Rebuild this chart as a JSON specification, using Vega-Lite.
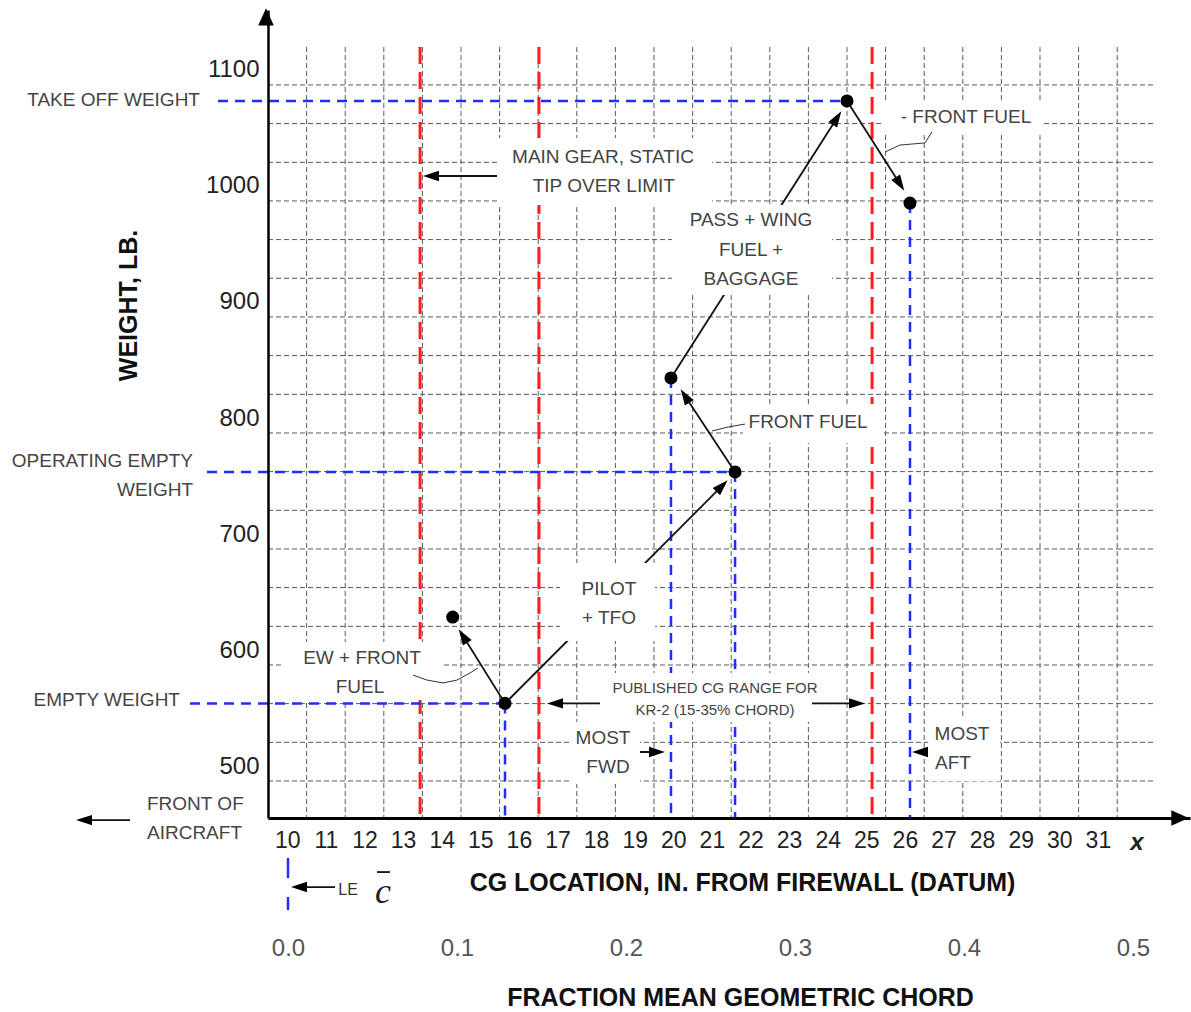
{
  "$schema": "https://vega.github.io/schema/vega-lite/v6.json",
  "width": 922,
  "height": 808,
  "autosize": {"type": "none"},
  "padding": {"left": 268, "top": 10, "right": 1, "bottom": 194},
  "background": "white",
  "config": {"view": {"stroke": null}, "font": "Liberation Sans"},
  "datasets": {
    "gridv": [{"x":10.5},{"x":11.5},{"x":12.5},{"x":13.5},{"x":14.5},{"x":15.5},{"x":16.5},{"x":17.5},{"x":18.5},{"x":19.5},{"x":20.5},{"x":21.5},{"x":22.5},{"x":23.5},{"x":24.5},{"x":25.5},{"x":26.5},{"x":27.5},{"x":28.5},{"x":29.5},{"x":30.5},{"x":31.5}],
    "gridh": [{"w":1087.1},{"w":1053.8},{"w":1020.4},{"w":987.1},{"w":953.8},{"w":920.4},{"w":887.1},{"w":853.8},{"w":820.4},{"w":787.1},{"w":753.8},{"w":720.4},{"w":687.1},{"w":653.8},{"w":620.4},{"w":587.1},{"w":553.8},{"w":520.4},{"w":487.1}],
    "limits": [
      {"x": 13.44, "limit": "Main gear static tip over limit"},
      {"x": 16.52, "limit": "15% chord"},
      {"x": 25.15, "limit": "35% chord"}
    ],
    "refs": [
      {"ref": "Take off weight", "x": 8.205, "x2": 24.5, "w": 1073.3, "w2": 1073.3},
      {"ref": "Operating empty weight", "x": 7.92, "x2": 21.6, "w": 753.5, "w2": 753.5},
      {"ref": "Empty weight", "x": 7.479, "x2": 15.64, "w": 554, "w2": 554},
      {"ref": "EW cg", "x": 15.64, "x2": 15.64, "w": 554, "w2": 455.2},
      {"ref": "Most fwd", "x": 19.94, "x2": 19.94, "w": 834.5, "w2": 455.2},
      {"ref": "OEW cg", "x": 21.6, "x2": 21.6, "w": 753.5, "w2": 455.2},
      {"ref": "Most aft", "x": 26.132, "x2": 26.132, "w": 985.3, "w2": 455.2}
    ],
    "points": [
      {"step": "Empty weight", "cg": 15.64, "weight": 554},
      {"step": "EW + front fuel", "cg": 14.285, "weight": 628.4},
      {"step": "Operating empty weight", "cg": 21.6, "weight": 753.5},
      {"step": "+ Front fuel", "cg": 19.94, "weight": 834.5},
      {"step": "Take off weight", "cg": 24.5, "weight": 1073.3},
      {"step": "- Front fuel", "cg": 26.132, "weight": 985.3}
    ],
    "arrows": [
      {"id": "tip over", "x": 15.433, "w": 1008.6, "x2": 13.723, "w2": 1008.6},
      {"id": "pass wing fuel baggage", "x": 19.94, "w": 834.5, "x2": 24.241, "w2": 1058.6},
      {"id": "minus front fuel", "x": 24.5, "w": 1073.3, "x2": 25.873, "w2": 1001.7},
      {"id": "front fuel", "x": 21.6, "w": 753.5, "x2": 20.303, "w2": 819.0},
      {"id": "pilot tfo", "x": 15.64, "w": 554, "x2": 21.262, "w2": 741.4},
      {"id": "ew front fuel", "x": 15.64, "w": 554, "x2": 14.552, "w2": 612.1},
      {"id": "range left", "x": 18.101, "w": 554, "x2": 16.935, "w2": 554},
      {"id": "range right", "x": 23.593, "w": 554, "x2": 24.759, "w2": 554},
      {"id": "most fwd", "x": 18.36, "w": 512.1, "x2": 19.578, "w2": 512.1},
      {"id": "most aft", "x": 27.557, "w": 512.1, "x2": 26.391, "w2": 512.1},
      {"id": "front of aircraft", "x": 5.925, "w": 453.4, "x2": 4.733, "w2": 453.4},
      {"id": "le", "x": 11.236, "w": 395.7, "x2": 10.303, "w2": 395.7},
      {"id": "c bar", "x": 12.324, "w": 408.6, "x2": 12.66, "w2": 408.6}
    ],
    "heads": [
      {"id": "tip over", "dir": "left", "x": 13.723, "w": 1008.6},
      {"id": "range left", "dir": "left", "x": 16.935, "w": 554},
      {"id": "most aft", "dir": "left", "x": 26.391, "w": 512.1},
      {"id": "front of aircraft", "dir": "left", "x": 4.733, "w": 453.4},
      {"id": "le", "dir": "left", "x": 10.303, "w": 395.7},
      {"id": "range right", "dir": "right", "x": 24.759, "w": 554},
      {"id": "most fwd", "dir": "right", "x": 19.578, "w": 512.1},
      {"id": "pass wing fuel baggage", "dir": "upright", "x": 24.241, "w": 1058.6},
      {"id": "minus front fuel", "dir": "downright", "x": 25.873, "w": 1001.7},
      {"id": "front fuel", "dir": "upleft", "x": 20.303, "w": 819.0},
      {"id": "ew front fuel", "dir": "upleft", "x": 14.552, "w": 612.1},
      {"id": "pilot tfo", "dir": "diag", "x": 21.262, "w": 741.4},
      {"id": "y axis", "dir": "axisup", "x": 9.448, "w": 1145.7},
      {"id": "x axis", "dir": "axisright", "x": 33.127, "w": 455.2}
    ],
    "boxes": [
      {"id": "main gear", "x": 15.459, "x2": 21.002, "w": 1041.4, "w2": 983.6},
      {"id": "pass", "x": 19.966, "x2": 24.111, "w": 983.6, "w2": 906.0},
      {"id": "minus front fuel", "x": 25.407, "x2": 29.552, "w": 1074.1, "w2": 1044.0},
      {"id": "front fuel", "x": 21.806, "x2": 25.407, "w": 812.1, "w2": 778.4},
      {"id": "pilot", "x": 17.065, "x2": 19.526, "w": 675.0, "w2": 607.8},
      {"id": "ew front fuel", "x": 9.889, "x2": 14.034, "w": 606.9, "w2": 556.9},
      {"id": "published", "x": 18.101, "x2": 23.593, "w": 580.2, "w2": 537.9},
      {"id": "most fwd", "x": 17.324, "x2": 19.137, "w": 537.9, "w2": 484.5},
      {"id": "most aft", "x": 26.598, "x2": 28.464, "w": 541.4, "w2": 487.1}
    ],
    "leaders": [
      {"id": "minus front fuel", "seq": 1, "x": 26.70, "w": 1046.6},
      {"id": "minus front fuel", "seq": 2, "x": 26.52, "w": 1037.1},
      {"id": "minus front fuel", "seq": 3, "x": 25.873, "w": 1035.3},
      {"id": "minus front fuel", "seq": 4, "x": 25.484, "w": 1029.3},
      {"id": "front fuel", "seq": 1, "x": 21.857, "w": 794.8},
      {"id": "front fuel", "seq": 2, "x": 21.417, "w": 792.2},
      {"id": "front fuel", "seq": 3, "x": 21.002, "w": 788.8},
      {"id": "ew front fuel", "seq": 1, "x": 13.256, "w": 578.4},
      {"id": "ew front fuel", "seq": 2, "x": 13.619, "w": 574.1},
      {"id": "ew front fuel", "seq": 3, "x": 14.034, "w": 571.6},
      {"id": "ew front fuel", "seq": 4, "x": 14.396, "w": 574.1},
      {"id": "ew front fuel", "seq": 5, "x": 14.733, "w": 580.2},
      {"id": "ew front fuel", "seq": 6, "x": 14.94, "w": 584.5}
    ],
    "notes": [
      {"role": "side", "text": "TAKE OFF WEIGHT", "x": 7.738, "w": 1074.1},
      {"role": "side", "text": "OPERATING EMPTY", "x": 7.557, "w": 762.9},
      {"role": "side", "text": "WEIGHT", "x": 7.557, "w": 737.9},
      {"role": "side", "text": "EMPTY WEIGHT", "x": 7.22, "w": 556.9},
      {"role": "front", "text": "FRONT OF", "x": 6.365, "w": 467.2},
      {"role": "front", "text": "AIRCRAFT", "x": 6.365, "w": 442.2},
      {"role": "callout", "text": "MAIN GEAR, STATIC", "x": 18.179, "w": 1025},
      {"role": "callout", "text": "TIP OVER LIMIT", "x": 18.2, "w": 1000},
      {"role": "callout", "text": "PASS + WING", "x": 22.013, "w": 970.7},
      {"role": "callout", "text": "FUEL +", "x": 22.013, "w": 944.8},
      {"role": "callout", "text": "BAGGAGE", "x": 22.013, "w": 919.8},
      {"role": "callout", "text": "- FRONT FUEL", "x": 27.583, "w": 1059.5},
      {"role": "callout", "text": "FRONT FUEL", "x": 23.49, "w": 796.6},
      {"role": "callout", "text": "PILOT", "x": 18.334, "w": 652.6},
      {"role": "callout", "text": "+ TFO", "x": 18.334, "w": 627.6},
      {"role": "callout", "text": "EW + FRONT", "x": 11.935, "w": 593.1},
      {"role": "callout", "text": "FUEL", "x": 11.883, "w": 568.1},
      {"role": "callout", "text": "MOST", "x": 18.179, "w": 524.1},
      {"role": "callout", "text": "FWD", "x": 18.308, "w": 499.1},
      {"role": "callout", "text": "MOST", "x": 27.479, "w": 527.6},
      {"role": "callout", "text": "AFT", "x": 27.246, "w": 502.6},
      {"role": "range", "text": "PUBLISHED CG RANGE FOR", "x": 21.08, "w": 567.2},
      {"role": "range", "text": "KR-2 (15-35% CHORD)", "x": 21.08, "w": 548.3},
      {"role": "le", "text": "LE", "x": 11.573, "w": 393.1},
      {"role": "chord", "text": "c", "x": 12.479, "w": 391.4},
      {"role": "xsym", "text": "x", "x": 32.013, "w": 433.6}
    ],
    "le_mark": [
      {"frac": 0, "w": 420.7, "w2": 403.4},
      {"frac": 0, "w": 387.1, "w2": 375.9}
    ]
  },
  "layer": [
    {
      "layer": [
        {
          "data": {"name": "gridv"},
          "mark": {"type": "rule", "color": "#5a5a5a", "strokeWidth": 1, "strokeDash": [5, 3], "clip": false},
          "encoding": {
            "x": {
              "field": "x", "type": "quantitative",
              "scale": {"domain": [9.5, 33.386], "nice": false, "zero": false},
              "axis": {
                "values": [10,11,12,13,14,15,16,17,18,19,20,21,22,23,24,25,26,27,28,29,30,31],
                "format": "d", "labelFontSize": 23, "labelColor": "#222", "labelPadding": 11,
                "ticks": false, "grid": false, "domainColor": "#000", "domainWidth": 3,
                "labelFlush": false, "labelOverlap": false,
                "title": "CG LOCATION, IN. FROM FIREWALL (DATUM)", "titleFontSize": 25, "titleFontWeight": "bold",
                "titleColor": "#111", "titleX": 474, "titleY": 64, "titleAlign": "center", "titleBaseline": "middle",
                "zindex": 1
              }
            },
            "y": {"datum": 1119.8, "type": "quantitative"},
            "y2": {"datum": 455.2}
          }
        },
        {
          "data": {"name": "gridh"},
          "mark": {"type": "rule", "color": "#5a5a5a", "strokeWidth": 1, "strokeDash": [5, 3], "clip": false},
          "encoding": {
            "y": {
              "field": "w", "type": "quantitative",
              "scale": {"domain": [455.2, 1151.7], "nice": false, "zero": false},
              "axis": {
                "values": [500, 600, 700, 800, 900, 1000, 1100], "format": "d",
                "labelFontSize": 24, "labelColor": "#222", "labelPadding": 9,
                "ticks": false, "grid": false, "domainColor": "#000", "domainWidth": 2.5,
                "title": "WEIGHT, LB.", "titleFontSize": 25, "titleFontWeight": "bold", "titleColor": "#111",
                "titleX": -140, "titleY": 295, "titleAngle": 270, "titleAlign": "center", "titleBaseline": "middle",
                "zindex": 1
              }
            },
            "x": {"datum": 9.5, "type": "quantitative"},
            "x2": {"datum": 32.48}
          }
        },
        {
          "data": {"name": "limits"},
          "mark": {"type": "rule", "color": "#ff1e1e", "strokeWidth": 3, "strokeDash": [17, 8], "clip": false},
          "encoding": {
            "x": {"field": "x", "type": "quantitative"},
            "y": {"datum": 1119.8, "type": "quantitative"},
            "y2": {"datum": 455.2}
          }
        },
        {
          "data": {"name": "refs"},
          "mark": {"type": "rule", "color": "#1f2eff", "strokeWidth": 2.5, "strokeDash": [10, 7], "clip": false},
          "encoding": {
            "x": {"field": "x", "type": "quantitative"},
            "x2": {"field": "x2"},
            "y": {"field": "w", "type": "quantitative"},
            "y2": {"field": "w2"}
          }
        },
        {
          "data": {"name": "arrows"},
          "mark": {"type": "rule", "color": "#111", "strokeWidth": 1.8, "clip": false},
          "encoding": {
            "x": {"field": "x", "type": "quantitative"},
            "x2": {"field": "x2"},
            "y": {"field": "w", "type": "quantitative"},
            "y2": {"field": "w2"}
          }
        },
        {
          "data": {"name": "boxes"},
          "mark": {"type": "rect", "fill": "white", "clip": false},
          "encoding": {
            "x": {"field": "x", "type": "quantitative"},
            "x2": {"field": "x2"},
            "y": {"field": "w", "type": "quantitative"},
            "y2": {"field": "w2"}
          }
        },
        {
          "data": {"name": "leaders"},
          "mark": {"type": "line", "color": "#333", "strokeWidth": 1, "clip": false},
          "encoding": {
            "x": {"field": "x", "type": "quantitative"},
            "y": {"field": "w", "type": "quantitative"},
            "detail": {"field": "id"},
            "order": {"field": "seq"}
          }
        },
        {
          "data": {"name": "points"},
          "mark": {"type": "point", "filled": true, "shape": "circle", "color": "#000", "size": 170, "opacity": 1, "clip": false},
          "encoding": {
            "x": {"field": "cg", "type": "quantitative"},
            "y": {"field": "weight", "type": "quantitative"}
          }
        },
        {
          "data": {"name": "heads"},
          "transform": [{"filter": "datum.dir == 'left'"}],
          "mark": {"type": "point", "filled": true, "shape": "M0,-1L0.65,1L-0.65,1Z", "angle": 270, "size": 256, "color": "#000", "opacity": 1, "clip": false},
          "encoding": {"x": {"field": "x", "type": "quantitative"}, "y": {"field": "w", "type": "quantitative"}}
        },
        {
          "data": {"name": "heads"},
          "transform": [{"filter": "datum.dir == 'right'"}],
          "mark": {"type": "point", "filled": true, "shape": "M0,-1L0.65,1L-0.65,1Z", "angle": 90, "size": 256, "color": "#000", "opacity": 1, "clip": false},
          "encoding": {"x": {"field": "x", "type": "quantitative"}, "y": {"field": "w", "type": "quantitative"}}
        },
        {
          "data": {"name": "heads"},
          "transform": [{"filter": "datum.dir == 'upright'"}],
          "mark": {"type": "point", "filled": true, "shape": "M0,-1L0.65,1L-0.65,1Z", "angle": 32.5, "size": 256, "color": "#000", "opacity": 1, "clip": false},
          "encoding": {"x": {"field": "x", "type": "quantitative"}, "y": {"field": "w", "type": "quantitative"}}
        },
        {
          "data": {"name": "heads"},
          "transform": [{"filter": "datum.dir == 'downright'"}],
          "mark": {"type": "point", "filled": true, "shape": "M0,-1L0.65,1L-0.65,1Z", "angle": 147.5, "size": 256, "color": "#000", "opacity": 1, "clip": false},
          "encoding": {"x": {"field": "x", "type": "quantitative"}, "y": {"field": "w", "type": "quantitative"}}
        },
        {
          "data": {"name": "heads"},
          "transform": [{"filter": "datum.dir == 'upleft'"}],
          "mark": {"type": "point", "filled": true, "shape": "M0,-1L0.65,1L-0.65,1Z", "angle": 327.5, "size": 256, "color": "#000", "opacity": 1, "clip": false},
          "encoding": {"x": {"field": "x", "type": "quantitative"}, "y": {"field": "w", "type": "quantitative"}}
        },
        {
          "data": {"name": "heads"},
          "transform": [{"filter": "datum.dir == 'diag'"}],
          "mark": {"type": "point", "filled": true, "shape": "M0,-1L0.65,1L-0.65,1Z", "angle": 44.8, "size": 256, "color": "#000", "opacity": 1, "clip": false},
          "encoding": {"x": {"field": "x", "type": "quantitative"}, "y": {"field": "w", "type": "quantitative"}}
        },
        {
          "data": {"name": "heads"},
          "transform": [{"filter": "datum.dir == 'axisup'"}],
          "mark": {"type": "point", "filled": true, "shape": "M0,-1L0.9,1L-0.9,1Z", "angle": 0, "size": 300, "color": "#000", "opacity": 1, "clip": false},
          "encoding": {"x": {"field": "x", "type": "quantitative"}, "y": {"field": "w", "type": "quantitative"}}
        },
        {
          "data": {"name": "heads"},
          "transform": [{"filter": "datum.dir == 'axisright'"}],
          "mark": {"type": "point", "filled": true, "shape": "M0,-1L0.9,1L-0.9,1Z", "angle": 90, "size": 300, "color": "#000", "opacity": 1, "clip": false},
          "encoding": {"x": {"field": "x", "type": "quantitative"}, "y": {"field": "w", "type": "quantitative"}}
        },
        {
          "data": {"name": "notes"},
          "transform": [{"filter": "datum.role == 'callout'"}],
          "mark": {"type": "text", "fontSize": 19, "color": "#444", "align": "center", "baseline": "middle", "clip": false},
          "encoding": {"x": {"field": "x", "type": "quantitative"}, "y": {"field": "w", "type": "quantitative"}, "text": {"field": "text"}}
        },
        {
          "data": {"name": "notes"},
          "transform": [{"filter": "datum.role == 'side'"}],
          "mark": {"type": "text", "fontSize": 19, "color": "#444", "align": "right", "baseline": "middle", "clip": false},
          "encoding": {"x": {"field": "x", "type": "quantitative"}, "y": {"field": "w", "type": "quantitative"}, "text": {"field": "text"}}
        },
        {
          "data": {"name": "notes"},
          "transform": [{"filter": "datum.role == 'front'"}],
          "mark": {"type": "text", "fontSize": 19, "color": "#444", "align": "left", "baseline": "middle", "clip": false},
          "encoding": {"x": {"field": "x", "type": "quantitative"}, "y": {"field": "w", "type": "quantitative"}, "text": {"field": "text"}}
        },
        {
          "data": {"name": "notes"},
          "transform": [{"filter": "datum.role == 'range'"}],
          "mark": {"type": "text", "fontSize": 15, "color": "#444", "align": "center", "baseline": "middle", "clip": false},
          "encoding": {"x": {"field": "x", "type": "quantitative"}, "y": {"field": "w", "type": "quantitative"}, "text": {"field": "text"}}
        },
        {
          "data": {"name": "notes"},
          "transform": [{"filter": "datum.role == 'le'"}],
          "mark": {"type": "text", "fontSize": 16, "color": "#333", "align": "center", "baseline": "middle", "clip": false},
          "encoding": {"x": {"field": "x", "type": "quantitative"}, "y": {"field": "w", "type": "quantitative"}, "text": {"field": "text"}}
        },
        {
          "data": {"name": "notes"},
          "transform": [{"filter": "datum.role == 'chord'"}],
          "mark": {"type": "text", "font": "Liberation Serif", "fontStyle": "italic", "fontSize": 36, "color": "#222", "align": "center", "baseline": "middle", "clip": false},
          "encoding": {"x": {"field": "x", "type": "quantitative"}, "y": {"field": "w", "type": "quantitative"}, "text": {"field": "text"}}
        },
        {
          "data": {"name": "notes"},
          "transform": [{"filter": "datum.role == 'xsym'"}],
          "mark": {"type": "text", "fontStyle": "italic", "fontWeight": "bold", "fontSize": 24, "color": "#222", "align": "center", "baseline": "middle", "clip": false},
          "encoding": {"x": {"field": "x", "type": "quantitative"}, "y": {"field": "w", "type": "quantitative"}, "text": {"field": "text"}}
        }
      ]
    },
    {
      "data": {"name": "le_mark"},
      "mark": {"type": "rule", "color": "#1f2eff", "strokeWidth": 2.5, "clip": false},
      "encoding": {
        "x": {
          "field": "frac", "type": "quantitative",
          "scale": {"domain": [-0.011834, 0.53373], "nice": false, "zero": false},
          "axis": {
            "orient": "bottom", "offset": 118, "values": [0, 0.1, 0.2, 0.3, 0.4, 0.5], "format": ".1f",
            "labelFont": "Liberation Sans Narrow, Liberation Sans", "labelFontSize": 24, "labelColor": "#555",
            "labelPadding": 0, "ticks": false, "domain": false, "grid": false, "labelFlush": false, "labelOverlap": false,
            "title": "FRACTION MEAN GEOMETRIC CHORD", "titleFontSize": 25, "titleFontWeight": "bold", "titleColor": "#111",
            "titleX": 472, "titleY": 61, "titleAlign": "center", "titleBaseline": "middle"
          }
        },
        "y": {"field": "w", "type": "quantitative"},
        "y2": {"field": "w2"}
      }
    }
  ],
  "resolve": {"scale": {"x": "independent"}, "axis": {"x": "independent"}}
}
